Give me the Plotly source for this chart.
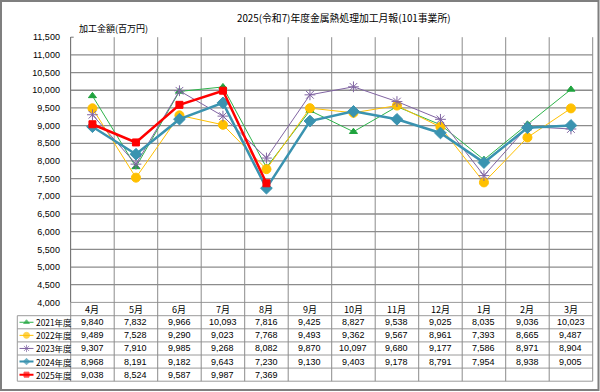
import plotly.graph_objects as go

# ---------------- data ----------------
months = ["4月", "5月", "6月", "7月", "8月", "9月", "10月", "11月", "12月", "1月", "2月", "3月"]
series_names = ["2021年度", "2022年度", "2023年度", "2024年度", "2025年度"]
v2021 = [9840, 7832, 9966, 10093, 7816, 9425, 8827, 9538, 9025, 8035, 9036, 10023]
v2022 = [9489, 7528, 9290, 9023, 7768, 9493, 9362, 9567, 8961, 7393, 8665, 9487]
v2023 = [9307, 7910, 9985, 9268, 8082, 9870, 10097, 9680, 9177, 7586, 8971, 8904]
v2024 = [8968, 8191, 9182, 9643, 7230, 9130, 9403, 9178, 8791, 7954, 8938, 9005]
v2025 = [9038, 8524, 9587, 9987, 7369]
y_ticks = list(range(4000, 11501, 500))
title_text = "2025(令和7)年度金属熱処理加工月報(101事業所)"
y_title = "加工金額(百万円)"

all_values = [v2021, v2022, v2023, v2024, v2025]

# ---------------- styles ----------------
styles = [
    dict(color="#2DB34A", width=1, symbol="triangle-up", size=7, ksize=5, mcolor="#1FA33E"),
    dict(color="#FFC000", width=1, symbol="circle", size=9, ksize=6, mcolor="#FFC000"),
    dict(color="#8064A2", width=1, symbol="asterisk-open", size=9, ksize=6, mcolor="#8064A2"),
    dict(color="#3A93B0", width=2.5, symbol="diamond", size=9, ksize=5, mcolor="#3A93B0"),
    dict(color="#FF0000", width=2.5, symbol="square", size=7, ksize=5, mcolor="#FF0000"),
]

W, H = 600, 392
def px(x):
    return x / W
def py(y):
    return 1 - y / H

# layout geometry (pixels)
PL, PR = 70.7, 592.7
PT, PB = 37.2, 302.4
TAB_LEFT = 17.3
row_lines = [302.4, 315.7, 328.8, 341.9, 355.0, 368.1, 381.2]
ncol = len(months)
colw = (PR - PL) / ncol
YMIN, YMAX = 4000, 11500
JP = "Noto Sans CJK JP"
NUM = "Liberation Sans, Arial"

fig = go.Figure()

x_pos = [i + 0.5 for i in range(ncol)]
for name, vals, st in zip(series_names, all_values, styles):
    fig.add_trace(go.Scatter(
        x=x_pos[:len(vals)], y=vals, mode="lines+markers", name=name,
        line=dict(color=st["color"], width=st["width"]),
        marker=dict(symbol=st["symbol"], size=st["size"], color=st["mcolor"],
                    line=dict(color=st["mcolor"], width=1)),
        showlegend=False, xaxis="x", yaxis="y",
    ))

# legend keys inside the table's first column (own small pixel-unit axes)
for i, (name, st) in enumerate(zip(series_names, styles)):
    yc = (row_lines[i + 1] + row_lines[i + 2]) / 2
    fig.add_trace(go.Scatter(
        x=[19.5, 26.5, 33.5], y=[yc, yc, yc], mode="lines+markers", cliponaxis=False,
        line=dict(color=st["color"], width=min(st["width"], 2)),
        marker=dict(symbol=st["symbol"], size=[0, st["ksize"], 0], color=st["mcolor"],
                    line=dict(color=st["mcolor"], width=1)),
        showlegend=False, hoverinfo="skip", xaxis="x2", yaxis="y2"))

shapes = []
grid_col = "#8C8C8C"
tab_col = "#9A9A9A"

# horizontal gridlines in plot (skip top 11,500)
for t in y_ticks[1:-1]:
    shapes.append(dict(type="line", xref="paper", yref="y", x0=px(PL), x1=px(PR), y0=t, y1=t,
                       line=dict(color=grid_col, width=1.3), layer="below"))
# table horizontal lines
for j, yl in enumerate(row_lines):
    x0 = PL if j == 0 else TAB_LEFT
    shapes.append(dict(type="line", xref="paper", yref="paper", x0=px(x0), x1=px(PR),
                       y0=py(yl), y1=py(yl), line=dict(color=tab_col, width=1), layer="below"))
# table vertical lines
shapes.append(dict(type="line", xref="paper", yref="paper", x0=px(TAB_LEFT), x1=px(TAB_LEFT),
                   y0=py(row_lines[1]), y1=py(row_lines[-1]), line=dict(color=tab_col, width=1), layer="below"))
for k in range(ncol + 1):
    xx = PL + k * colw
    shapes.append(dict(type="line", xref="paper", yref="paper", x0=px(xx), x1=px(xx),
                       y0=py(PT), y1=py(row_lines[-1]), line=dict(color=grid_col, width=1), layer="below"))
# small top tick
shapes.append(dict(type="line", xref="paper", yref="paper", x0=px(PL), x1=px(PL + 3),
                   y0=py(PT), y1=py(PT), line=dict(color="#777777", width=1)))
# outer frame
shapes.append(dict(type="rect", xref="paper", yref="paper", x0=px(1), x1=px(598.5),
                   y0=py(390), y1=py(1), line=dict(color="#7F7F7F", width=2)))

annotations = []
annotations.append(dict(text=title_text, xref="paper", yref="paper", x=px(343.5), y=py(18),
                        showarrow=False, font=dict(family=JP, size=9.8, color="#000"),
                        xanchor="center", yanchor="middle"))
annotations.append(dict(text=y_title, xref="paper", yref="paper", x=px(77), y=py(28.5),
                        showarrow=False, font=dict(family=JP, size=9, color="#000"),
                        xanchor="left", yanchor="middle"))
hy = (row_lines[0] + row_lines[1]) / 2
for k, m in enumerate(months):
    annotations.append(dict(text=m, xref="paper", yref="paper", x=px(PL + (k + 0.5) * colw), y=py(hy),
                            showarrow=False, font=dict(family=JP, size=9, color="#000"),
                            xanchor="center", yanchor="middle"))
for i, (name, vals) in enumerate(zip(series_names, all_values)):
    yc = (row_lines[i + 1] + row_lines[i + 2]) / 2
    annotations.append(dict(text=name, xref="paper", yref="paper", x=px(34), y=py(yc),
                            showarrow=False, font=dict(family=JP, size=8.4, color="#000"),
                            xanchor="left", yanchor="middle"))
    for k, v in enumerate(vals):
        annotations.append(dict(text=f"{v:,}", xref="paper", yref="paper",
                                x=px(PL + (k + 0.5) * colw), y=py(yc), showarrow=False,
                                font=dict(family=NUM, size=9, color="#000"),
                                xanchor="center", yanchor="middle"))

fig.update_layout(
    width=W, height=H, margin=dict(l=0, r=0, t=0, b=0, pad=0, autoexpand=False),
    paper_bgcolor="white", plot_bgcolor="rgba(0,0,0,0)",
    xaxis=dict(domain=[px(PL), px(PR)], range=[0, ncol], showgrid=False, zeroline=False,
               showticklabels=False, ticks="", showline=False, fixedrange=True, automargin=False),
    yaxis=dict(domain=[py(PB), py(PT)], range=[YMIN, YMAX], tickvals=y_ticks,
               tickformat=",d", showgrid=False, zeroline=False, showline=True,
               linecolor="#777777", linewidth=1, ticks="outside", ticklen=8,
               tickcolor="rgba(0,0,0,0)", automargin=False,
               tickfont=dict(family=NUM, size=9, color="#000"), fixedrange=True),
    xaxis2=dict(domain=[px(TAB_LEFT), px(PL)], range=[TAB_LEFT, PL], visible=False,
                fixedrange=True, anchor="y2", automargin=False),
    yaxis2=dict(domain=[py(row_lines[-1]), py(row_lines[1])], range=[row_lines[-1], row_lines[1]],
                visible=False, fixedrange=True, anchor="x2", automargin=False),
    shapes=shapes, annotations=annotations, showlegend=False,
)

fig.write_html("out.html", config={"displayModeBar": False},
               post_script="document.body.style.margin='0';document.body.style.overflow='hidden';")
